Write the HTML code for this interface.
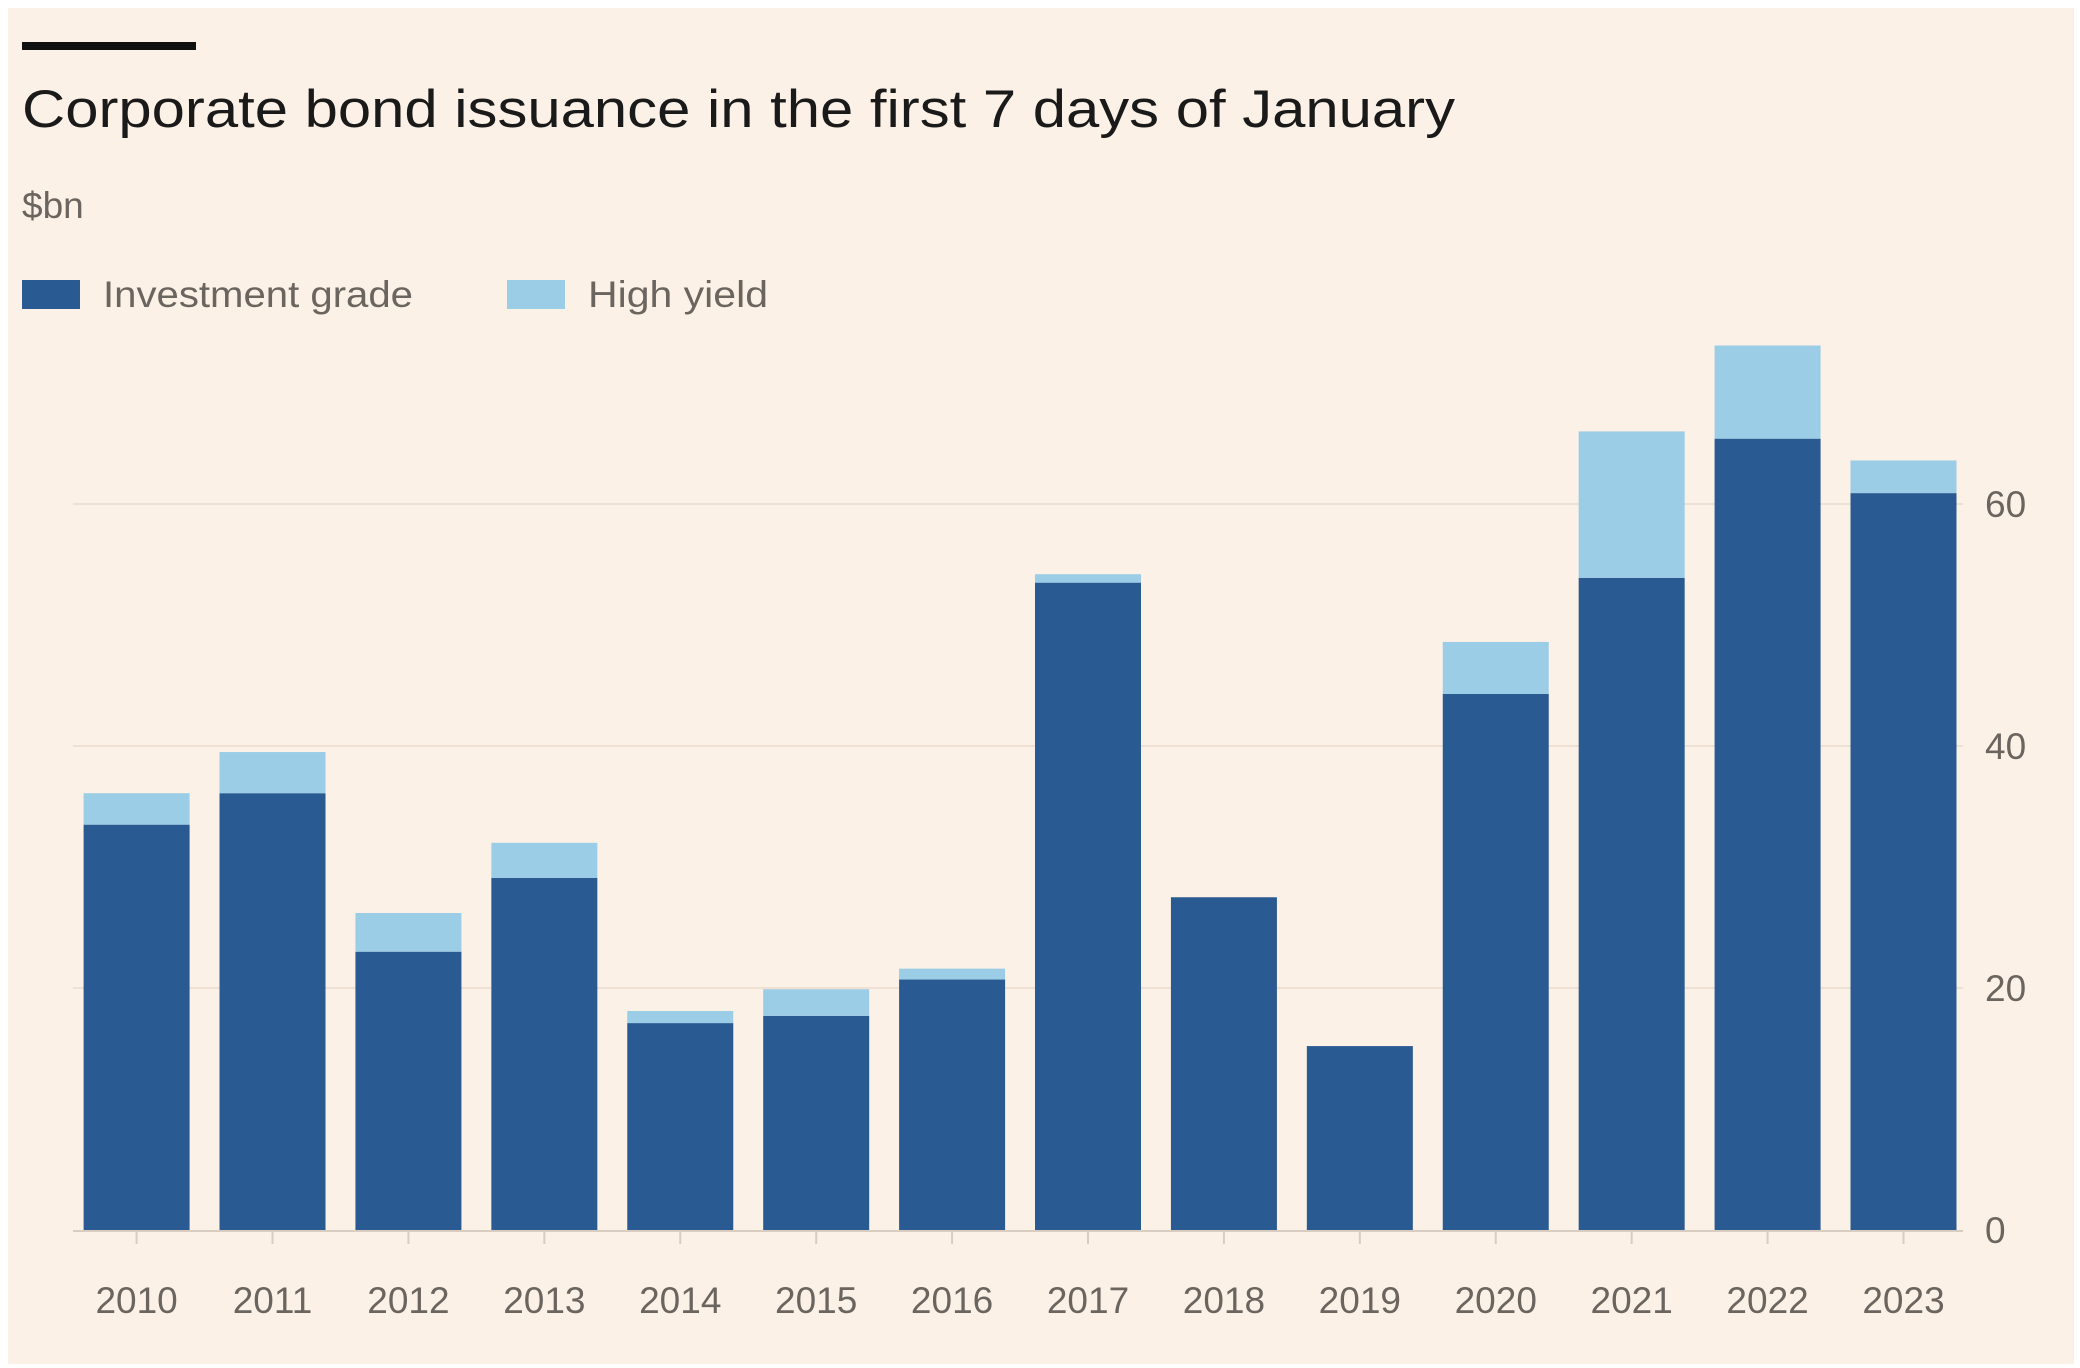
<!DOCTYPE html>
<html><head><meta charset="utf-8"><style>
html,body{margin:0;padding:0;background:#fff;}
svg{display:block;font-family:"Liberation Sans",sans-serif;}
</style></head><body>
<svg id="chart" width="2080" height="1368" viewBox="0 0 2080 1368">
<rect x="8" y="8" width="2066" height="1356" fill="#fcf1e6"/>
<rect x="22" y="42" width="174" height="8" fill="#111"/>
<text x="22" y="127" font-size="53" fill="#1a1a1a" textLength="1433" lengthAdjust="spacingAndGlyphs">Corporate bond issuance in the first 7 days of January</text>
<text x="22" y="218" font-size="37" fill="#6b6560">$bn</text>
<g>
<rect x="22" y="280" width="58" height="29" fill="#2a5a92"/>
<text x="103" y="307" font-size="37" fill="#6b6560" textLength="310" lengthAdjust="spacingAndGlyphs">Investment grade</text>
<rect x="507" y="280" width="58" height="29" fill="#9ccde6"/>
<text x="588" y="307" font-size="37" fill="#6b6560" textLength="180" lengthAdjust="spacingAndGlyphs">High yield</text>
</g>
<g id="grid"></g><g id="bars"></g><g id="axes"></g>
</svg>
<script>
const years=["2010","2011","2012","2013","2014","2015","2016","2017","2018","2019","2020","2021","2022","2023"];
const investmentGrade=[33.5,36.1,23.0,29.1,17.1,17.7,20.7,53.5,27.5,15.2,44.3,53.9,65.4,60.9];
const highYield=[2.6,3.4,3.2,2.9,1.0,2.2,0.9,0.7,0,0,4.3,12.1,7.7,2.7];
const yTicks=[0,20,40,60];

const NS="http://www.w3.org/2000/svg";
const y0=1230,y60=504;
function y(v){return y0-(y0-y60)*v/60;}
function x(i){return 136.6+i*(1903.5-136.6)/(years.length-1);}
const bw=106;
function mk(tag,attrs,parent){const e=document.createElementNS(NS,tag);for(const k in attrs)e.setAttribute(k,attrs[k]);parent.appendChild(e);return e;}
const grid=document.getElementById('grid'),bars=document.getElementById('bars'),axes=document.getElementById('axes');
yTicks.forEach(t=>{
  if(t>0){const l=mk('line',{x1:73,x2:1963,y1:y(t),y2:y(t),stroke:'#eee0d2','stroke-width':2},grid);
  
  }
  const tx=mk('text',{x:1985,y:y(t)+13,'font-size':37,fill:'#6b6560'},axes);
  tx.textContent=t;
  
  
});
const base=mk('line',{x1:73,x2:1963,y1:y0+1,y2:y0+1,stroke:'#d9cdc1','stroke-width':2},axes);


years.forEach((yr,i)=>{
  const cx=x(i);
  const ig=mk('rect',{x:cx-bw/2,y:y(investmentGrade[i]),width:bw,height:y0-y(investmentGrade[i]),fill:'#2a5a92'},bars);
  
  
  if(highYield[i]>0){
    const tot=investmentGrade[i]+highYield[i];
    const hy=mk('rect',{x:cx-bw/2,y:y(tot),width:bw,height:y(investmentGrade[i])-y(tot),fill:'#9ccde6'},bars);
    
    
  }
  const tk=mk('line',{x1:cx,x2:cx,y1:y0+2,y2:y0+14,stroke:'#d9cdc1','stroke-width':2},axes);
  
  
  const t=mk('text',{x:cx,y:1313,'font-size':37,fill:'#6b6560','text-anchor':'middle'},axes);
  t.textContent=yr;
  
  
});
</script>
</body></html>
